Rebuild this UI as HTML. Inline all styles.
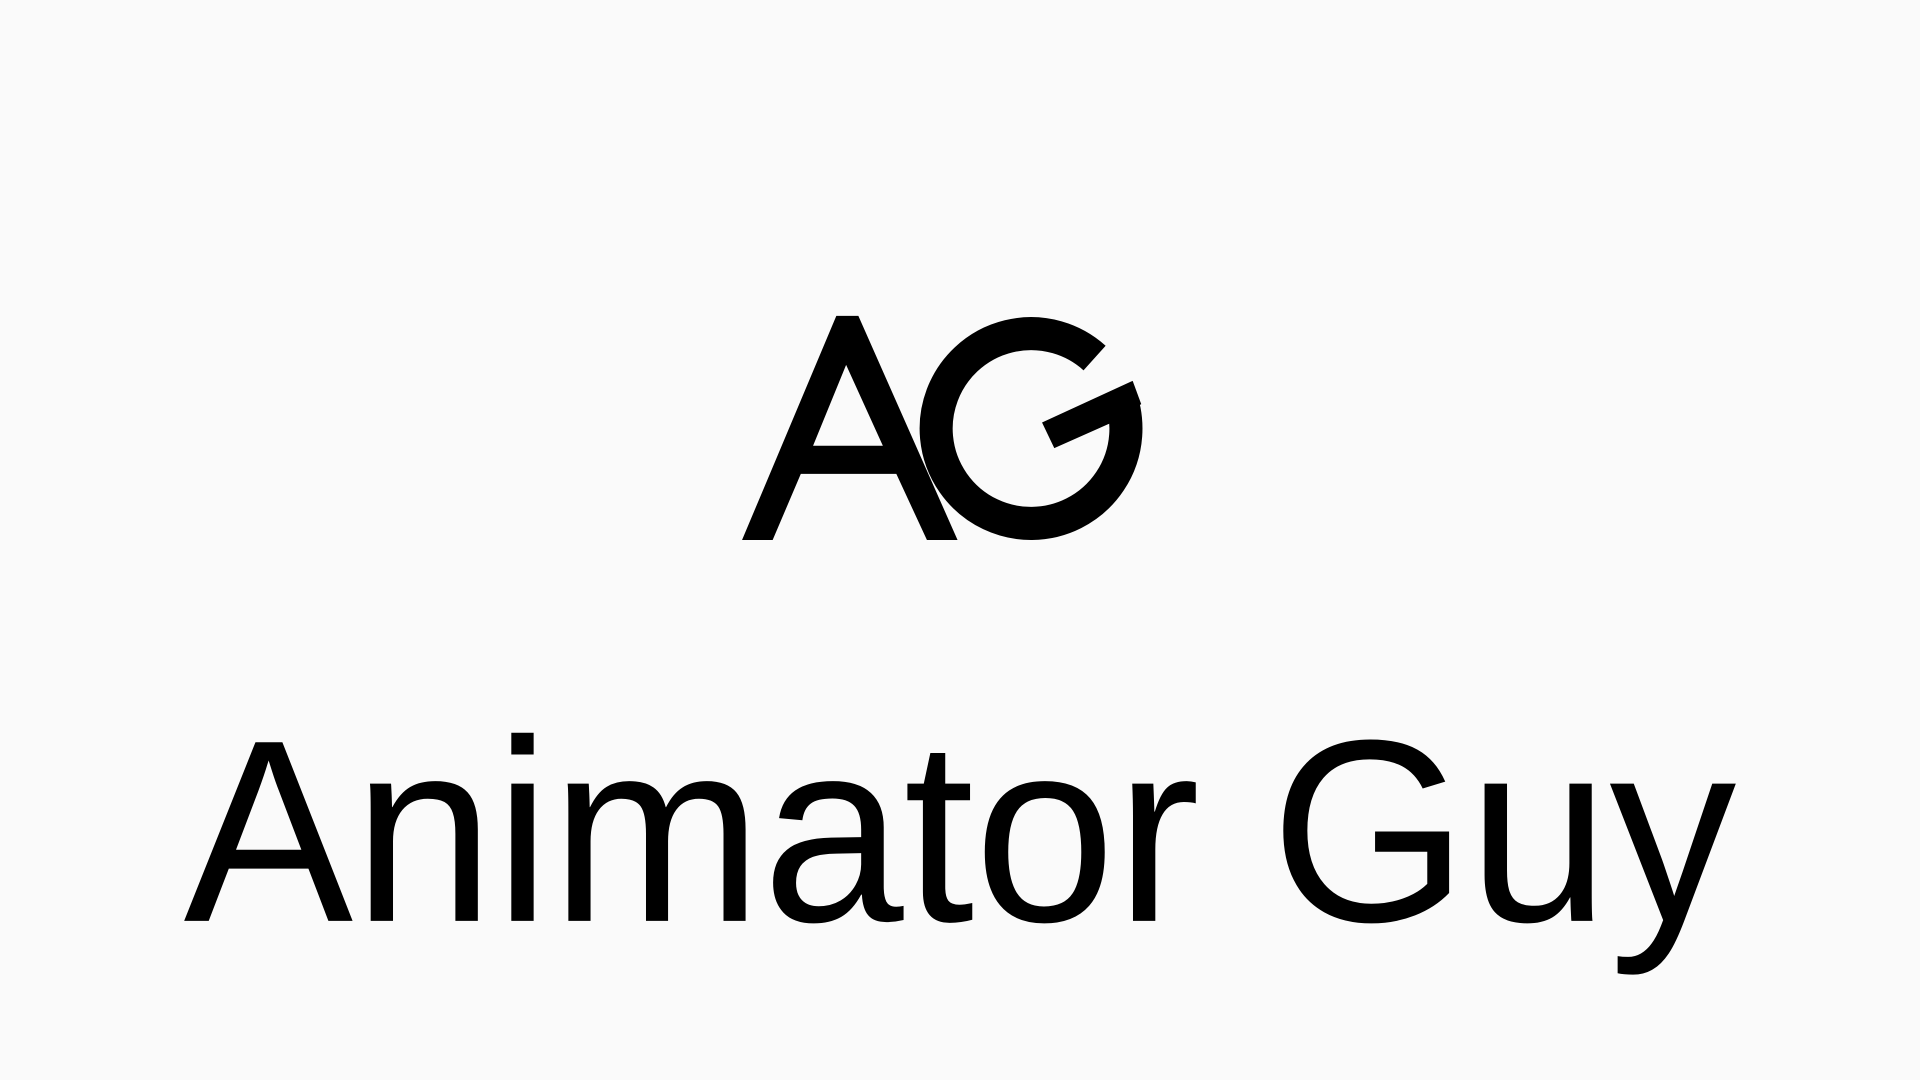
<!DOCTYPE html>
<html>
<head>
<meta charset="utf-8">
<style>
  html,body{margin:0;padding:0;background:#fafafa;}
  svg{display:block;}
</style>
</head>
<body>
<svg width="1920" height="1080" viewBox="0 0 1568 882" xmlns="http://www.w3.org/2000/svg">
  <rect x="0" y="0" width="1568" height="882" fill="#fafafa"/>
  <g aria-label="AG" fill="#000">
    <path fill-rule="evenodd"
      d="M606,441 L683,258 L701,258 L782,441 L757,441 L732,387 L654,387 L631,441 Z M664,364 L691,298 L721,364 Z"/>
    <path fill="none" stroke="#000" stroke-width="27"
      d="M913.9,321 A77.5,77.5 0 1 1 893.9,292.4"/>
    <polygon points="851,345 925,311 932,330 906,346 861,366"/>
  </g>
  <text x="150" y="752" textLength="1268" lengthAdjust="spacingAndGlyphs"
    font-family="'Liberation Sans', sans-serif" font-size="212" fill="#000">Animator Guy</text>
</svg>
</body>
</html>
